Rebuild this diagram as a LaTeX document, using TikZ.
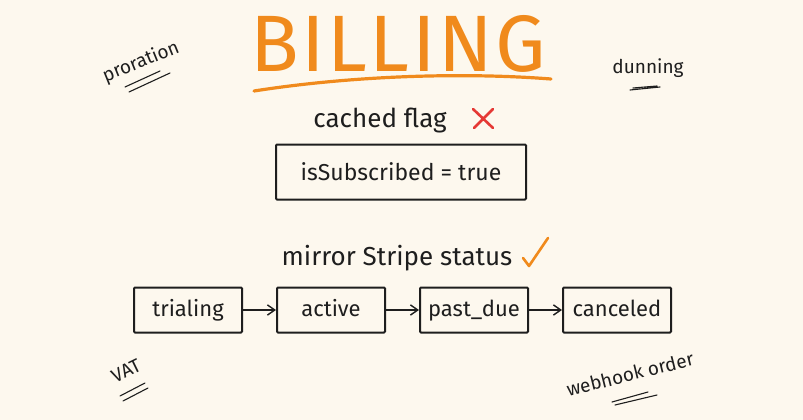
\documentclass[tikz,border=0pt]{standalone}
\usepackage{fontspec}
\setmainfont{Fira Sans}
\usetikzlibrary{arrows.meta,positioning}

\definecolor{paper}{HTML}{FDF8EE}
\definecolor{ink}{HTML}{1E1E1E}
\definecolor{billorange}{HTML}{F08A1C}
\definecolor{crossred}{HTML}{E53935}

\begin{document}
\begin{tikzpicture}[
  x=1pt,y=-1pt,
  font=\fontsize{22}{26}\selectfont,
  >={Straight Barb[length=2.6mm,width=3.6mm,line width=1.4pt]},
  box/.style={draw=ink,line width=2pt,rounded corners=1pt,align=center,inner sep=4pt,text=ink},
  state/.style={box,minimum width=108pt,minimum height=45pt,text height=18pt,text depth=5pt},
  caption/.style={text=ink,font=\fontsize{26}{30}\selectfont},
  aside/.style={text=ink,font=\fontsize{19}{22}\selectfont},
  scribble/.style={draw=ink,line width=1.1pt,line cap=round},
  arr/.style={->,draw=ink,line width=1.6pt},
]

\fill[paper] (0,0) rectangle (803,420);
\useasboundingbox (0,0) rectangle (803,420);

% title
\node[text=billorange,font=\fontsize{80}{84}\selectfont\addfontfeature{LetterSpace=3}] (title) at (398,44) {BILLING};
\draw[billorange,line width=3.2pt,line cap=round] (254,91) .. controls (350,76) and (460,72) .. (551,79);

% cached flag
\node[caption] (cached) at (380,121) {cached flag};
\draw[crossred,line width=2.6pt,line cap=round] (473,109) -- (493,128) (493,109) -- (474,128);
\node[box,minimum width=250pt,minimum height=55pt,font=\fontsize{23}{27}\selectfont] (flag) at (401,172) {isSubscribed = true};

% mirror stripe status
\node[caption] (mirror) at (397,258) {mirror Stripe status};
\draw[billorange,line width=2.6pt,line cap=round,line join=round] (523,258) -- (529,266) -- (548,238);

\node[state] (trialing) at (188,310) {trialing};
\node[state,right=33pt of trialing] (active) {active};
\node[state,right=33pt of active] (pastdue) {past\_due};
\node[state,right=33pt of pastdue] (canceled) {canceled};

\draw[arr] (trialing) -- (active);
\draw[arr] (active) -- (pastdue);
\draw[arr] (pastdue) -- (canceled);

% side notes
\node[aside,rotate=22] (proration) at (141,62) {proration};
\draw[scribble] (125,87) -- (160,71) (129,92) -- (170,73);

\node[aside] (dunning) at (648,68) {dunning};
\draw[scribble] (630,90) -- (660,87) (633,88) -- (657,86);

\node[aside,rotate=26] (vat) at (126,371) {VAT};
\draw[scribble] (120,396) -- (145,383) (123,401) -- (148,388);

\node[aside,rotate=14] (webhook) at (630,374) {webhook order};
\draw[scribble] (612,402) -- (648,392) (615,405) -- (657,395);

\end{tikzpicture}
\end{document}
